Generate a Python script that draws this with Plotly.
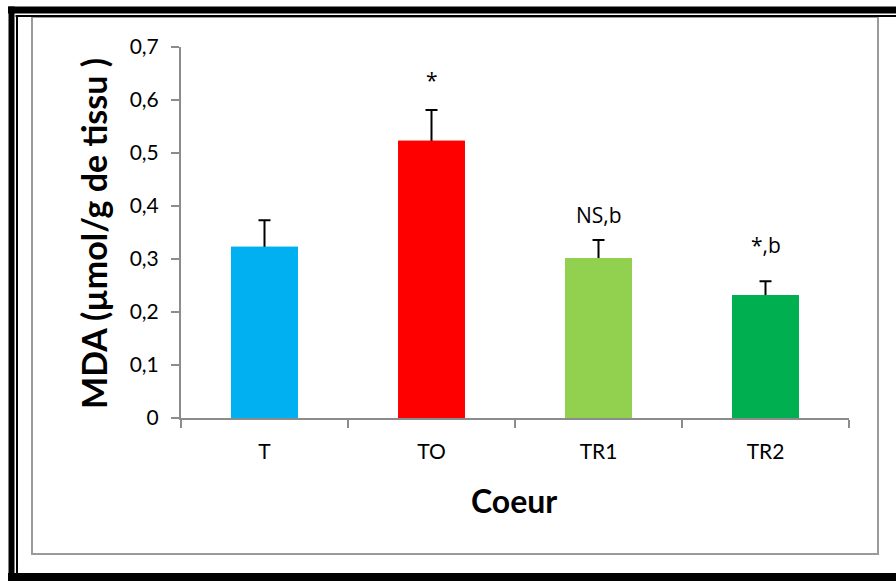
import plotly.graph_objects as go

categories = ["T", "TO", "TR1", "TR2"]
values = [0.323, 0.523, 0.302, 0.232]
errors = [0.050, 0.058, 0.034, 0.026]
colors = ["#00B0F0", "#FF0000", "#92D050", "#00B050"]
labels = ["", "*", "NS,b", "*,b"]
label_y = [0, 0.638, 0.383, 0.326]
y_ticks = [0, 0.1, 0.2, 0.3, 0.4, 0.5, 0.6, 0.7]

W, H = 896, 581
L, R, T, B = 181, 849, 47, 418

def px(x):
    return (x - L) / (R - L)

def py(y):
    return (B - y) / (B - T)

FONT = "Lato"
LABEL_FONT = "Open Sans"

fig = go.Figure()
fig.add_trace(go.Bar(
    x=categories, y=values, width=0.4,
    marker=dict(color=colors, line=dict(width=0)),
    error_y=dict(type="data", symmetric=False, array=errors,
                 arrayminus=[0.02] * len(errors), color="black",
                 thickness=2, width=6),
    showlegend=False, hoverinfo="skip",
))
fig.add_trace(go.Bar(
    x=categories, y=values, width=0.4,
    marker=dict(color=colors, line=dict(width=0)),
    showlegend=False,
))

for c, t, yv in zip(categories, labels, label_y):
    if t:
        fig.add_annotation(x=c, y=yv, text=t, showarrow=False,
                           xref="x", yref="y", xanchor="center", yanchor="middle",
                           font=dict(size=21, color="black", family=LABEL_FONT))

fig.add_annotation(x=px(93), y=py(233), xref="paper", yref="paper",
                   xanchor="center", yanchor="middle",
                   text="<b>MDA (µmol/g de tissu )</b>", textangle=-90,
                   showarrow=False,
                   font=dict(size=34, color="black", family=FONT))
fig.add_annotation(x=px(514), y=py(500), xref="paper", yref="paper",
                   xanchor="center", yanchor="middle",
                   text="<b>Coeur</b>", showarrow=False,
                   font=dict(size=32, color="black", family=FONT))

shapes = [
    dict(type="rect", xref="paper", yref="paper",
         x0=px(32), x1=px(878), y0=py(554), y1=py(17),
         line=dict(color="#9a9a9a", width=2), layer="below"),
    dict(type="line", xref="paper", yref="paper",
         x0=px(8), x1=px(905), y0=py(10), y1=py(10),
         line=dict(color="black", width=7)),
    dict(type="line", xref="paper", yref="paper",
         x0=px(11.5), x1=px(11.5), y0=py(6.5), y1=py(590),
         line=dict(color="black", width=6)),
    dict(type="line", xref="paper", yref="paper",
         x0=px(8), x1=px(905), y0=py(577), y1=py(577),
         line=dict(color="black", width=8)),
    dict(type="line", xref="paper", yref="paper",
         x0=px(15.5), x1=px(905), y0=py(16), y1=py(16),
         line=dict(color="black", width=2)),
    dict(type="line", xref="paper", yref="paper",
         x0=px(17), x1=px(17), y0=py(15), y1=py(573),
         line=dict(color="black", width=2)),
]

fig.update_layout(
    width=W, height=H,
    margin=dict(l=L, r=W - R, t=T, b=H - B),
    paper_bgcolor="white", plot_bgcolor="white",
    separators=", ",
    barmode="overlay",
    shapes=shapes,
    font=dict(family=FONT, size=21, color="black"),
    xaxis=dict(
        showline=True, linecolor="#8c8c8c", linewidth=2,
        ticks="outside", tickson="boundaries", ticklen=8,
        tickcolor="#8c8c8c", tickwidth=2,
        ticklabelstandoff=14,
        tickfont=dict(size=21, family=FONT, color="black"),
        showgrid=False, zeroline=False,
    ),
    yaxis=dict(
        range=[0, 0.7], tickvals=y_ticks,
        ticktext=[("%.1f" % v).replace(".", ",") if v else "0" for v in y_ticks],
        showline=True, linecolor="#8c8c8c", linewidth=2,
        ticks="outside", ticklen=8, tickcolor="#8c8c8c", tickwidth=2,
        ticklabelstandoff=8,
        tickfont=dict(size=21, family=FONT, color="black"),
        showgrid=False, zeroline=False,
    ),
)

fig.write_html("out.html")
